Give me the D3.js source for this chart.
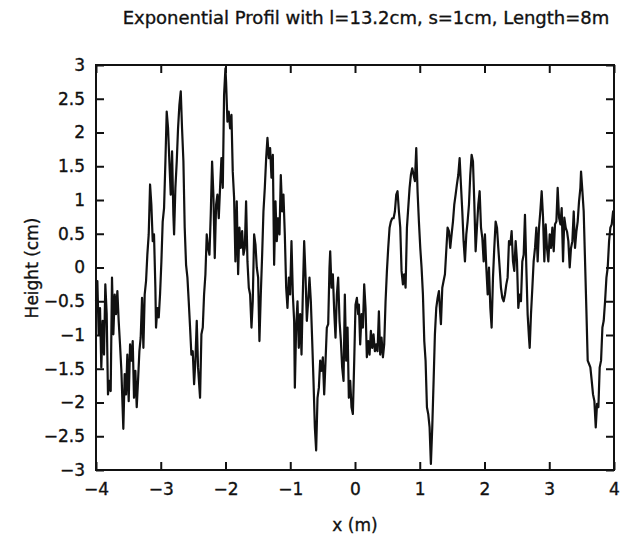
<!DOCTYPE html>
<html>
<head>
<meta charset="utf-8">
<script src="https://cdn.jsdelivr.net/npm/d3@7"></script>
<style>
  html, body { margin: 0; padding: 0; background: #fff; }
  svg { display: block; }
  text { font-family: "DejaVu Sans", "Liberation Sans", sans-serif; fill: #111; stroke: #111; stroke-width: 0.35px; }
</style>
</head>
<body>
<svg id="chart" width="621" height="544"></svg>
<script>
// Surface profile: position along the track (m) and height (cm)
const xPos = [
  -4.000,-3.979,-3.959,-3.938,-3.918,-3.897,-3.876,-3.856,-3.835,-3.815,-3.794,-3.773,-3.753,-3.732,-3.711,-3.691,-3.670,-3.650,-3.629,-3.608,
  -3.578,-3.557,-3.536,-3.516,-3.495,-3.474,-3.454,-3.433,-3.413,-3.392,-3.371,-3.351,-3.330,-3.310,-3.289,-3.268,-3.248,-3.227,-3.207,-3.186,
  -3.165,-3.145,-3.124,-3.104,-3.083,-3.073,-3.052,-3.031,-3.011,-2.990,-2.970,-2.949,-2.928,-2.908,-2.887,-2.867,-2.846,-2.825,-2.805,-2.794,
  -2.774,-2.753,-2.733,-2.712,-2.691,-2.671,-2.650,-2.630,-2.609,-2.588,-2.568,-2.547,-2.527,-2.506,-2.485,-2.465,-2.444,-2.424,-2.393,-2.372,
  -2.351,-2.331,-2.310,-2.290,-2.269,-2.248,-2.228,-2.207,-2.187,-2.166,-2.145,-2.125,-2.104,-2.084,-2.063,-2.042,-2.022,-2.001,-1.991,-1.970,
  -1.950,-1.929,-1.908,-1.888,-1.867,-1.847,-1.826,-1.805,-1.785,-1.764,-1.743,-1.723,-1.702,-1.682,-1.661,-1.640,-1.620,-1.599,-1.579,-1.558,
  -1.537,-1.517,-1.496,-1.476,-1.455,-1.434,-1.414,-1.393,-1.372,-1.352,-1.331,-1.311,-1.290,-1.269,-1.249,-1.228,-1.208,-1.187,-1.166,-1.146,
  -1.125,-1.105,-1.084,-1.063,-1.043,-1.022,-1.002,-0.981,-0.960,-0.940,-0.929,-0.909,-0.888,-0.868,-0.847,-0.826,-0.806,-0.785,-0.765,-0.744,
  -0.723,-0.703,-0.682,-0.661,-0.641,-0.620,-0.600,-0.579,-0.558,-0.538,-0.517,-0.497,-0.476,-0.455,-0.435,-0.414,-0.394,-0.383,-0.363,-0.342,
  -0.321,-0.301,-0.280,-0.260,-0.239,-0.218,-0.198,-0.177,-0.157,-0.136,-0.115,-0.095,-0.074,-0.054,-0.033,-0.012,0.008,0.029,0.049,0.060,
  0.080,0.101,0.122,0.142,0.163,0.183,0.204,0.225,0.245,0.266,0.286,0.307,0.328,0.348,0.369,0.389,0.410,0.431,0.451,0.472,
  0.493,0.513,0.534,0.554,0.575,0.596,0.616,0.637,0.657,0.678,0.699,0.719,0.740,0.760,0.781,0.802,0.822,0.843,0.863,0.884,
  0.905,0.925,0.946,0.966,0.987,1.008,1.028,1.049,1.070,1.090,1.111,1.131,1.152,1.172,1.193,1.214,1.234,1.255,1.276,1.296,
  1.317,1.327,1.348,1.368,1.389,1.409,1.430,1.451,1.471,1.492,1.513,1.533,1.554,1.574,1.595,1.616,1.636,1.657,1.677,1.698,
  1.719,1.739,1.760,1.780,1.801,1.822,1.842,1.863,1.883,1.904,1.925,1.946,1.966,1.987,2.007,2.028,2.049,2.069,2.090,2.110,
  2.131,2.151,2.172,2.193,2.213,2.234,2.254,2.275,2.296,2.316,2.337,2.357,2.378,2.399,2.419,2.440,2.460,2.481,2.502,2.522,
  2.543,2.563,2.584,2.605,2.625,2.646,2.666,2.687,2.698,2.718,2.739,2.759,2.780,2.801,2.821,2.842,2.862,2.883,2.904,2.924,
  2.945,2.965,2.986,3.007,3.027,3.048,3.069,3.089,3.110,3.130,3.151,3.172,3.192,3.213,3.233,3.254,3.275,3.295,3.316,3.336,
  3.357,3.378,3.398,3.419,3.439,3.460,3.481,3.491,3.512,3.532,3.553,3.574,3.594,3.615,3.635,3.656,3.676,3.697,3.718,3.738,
  3.759,3.779,3.800,3.821,3.841,3.862,3.883,3.903,3.924,3.944,3.965,3.986,4.000
];
const heights = [
  -0.50,-0.20,-0.99,-0.60,-1.48,-0.79,-1.29,-0.25,-0.69,-1.88,-1.68,-1.83,-0.15,-0.99,-0.40,-0.69,-0.35,-0.79,-1.14,-1.53,
  -2.39,-1.58,-1.88,-1.29,-1.98,-1.14,-1.38,-1.09,-1.93,-1.53,-2.07,-1.68,-1.24,-1.04,-0.45,-1.19,-0.40,-0.20,0.19,0.49,
  1.23,0.93,0.39,0.49,-0.30,-0.89,-0.60,-0.74,-0.40,0.09,0.68,0.88,1.57,2.31,2.06,1.57,1.08,1.72,0.78,0.49,
  1.18,1.57,2.06,2.41,2.61,2.06,1.57,0.59,0.04,-0.15,-0.50,-0.89,-1.29,-1.24,-1.73,-1.38,-0.79,-1.48,-1.93,-0.99,
  -0.89,-0.40,-0.10,0.49,0.29,0.19,0.78,1.57,1.08,0.14,0.93,1.08,0.73,1.18,1.62,1.18,2.56,2.95,2.75,2.16,
  2.31,2.06,2.26,1.42,1.03,0.09,0.98,-0.10,0.59,0.29,0.54,0.19,0.29,0.98,0.09,-0.30,-0.40,-0.89,-0.50,0.49,
  0.34,0.00,-0.15,-1.09,-0.40,0.19,0.83,1.18,1.62,1.92,1.62,1.77,1.33,1.67,0.04,0.98,0.39,0.73,0.49,1.37,
  0.83,1.08,0.49,-0.30,-0.60,-0.15,-0.40,0.39,-0.40,-0.79,-1.78,-0.89,-0.50,-1.19,-0.69,-1.29,-0.40,0.39,-0.10,-0.79,
  -0.50,-0.15,-0.50,-1.09,-1.68,-2.37,-2.71,-1.93,-1.78,-1.38,-1.53,-1.33,-1.88,-1.38,-0.89,-0.84,0.00,0.24,-0.30,-0.10,
  -0.65,-1.04,-0.40,-0.15,-0.79,-1.09,-1.48,-1.68,-0.40,-1.38,-0.89,-1.93,-1.68,-2.07,-2.17,-1.38,-0.55,-0.45,-0.69,-0.55,
  -1.14,-0.69,-0.89,-0.25,-0.60,-1.33,-1.09,-1.29,-0.94,-1.19,-0.99,-1.24,-1.14,-1.24,-0.65,-1.29,-1.04,-1.33,-1.14,-0.50,
  -0.05,0.29,0.59,0.68,0.73,0.73,0.83,1.08,1.13,0.83,0.59,-0.05,-0.25,-0.10,-0.30,0.59,0.88,1.18,1.37,1.47,
  1.37,1.28,1.77,1.13,0.68,0.29,0.00,-0.40,-1.09,-1.38,-2.07,-2.17,-2.37,-2.91,-2.37,-1.68,-0.99,-0.60,-0.45,-0.35,
  -0.69,-0.84,-0.30,-0.20,-0.10,0.24,0.59,0.54,0.29,0.49,0.68,0.93,1.08,1.23,1.37,1.62,1.23,0.83,0.39,0.09,
  0.49,0.68,0.93,1.37,1.67,1.57,0.98,0.24,0.59,0.93,1.13,0.59,0.44,0.09,0.49,0.00,-0.40,0.00,-0.60,-0.89,
  -0.15,0.29,0.68,0.59,0.29,0.00,-0.30,-0.45,-0.50,-0.40,-0.25,-0.15,0.39,0.34,0.54,0.09,-0.05,0.39,0.09,-0.60,
  -0.40,-0.50,0.09,0.19,0.78,0.00,-0.69,-1.04,-1.19,-0.69,-0.30,0.09,0.29,0.59,0.09,0.59,0.83,1.13,0.74,0.09,
  0.64,0.29,0.09,0.49,0.29,0.59,0.24,0.64,0.68,1.18,0.74,0.64,0.88,0.09,0.74,0.59,0.53,0.39,0.00,0.29,
  0.39,0.83,0.29,0.53,0.68,0.98,1.18,1.42,1.13,0.83,0.09,-0.65,-1.38,-1.43,-1.48,-1.68,-1.88,-1.98,-2.37,-2.02,
  -2.07,-1.48,-1.38,-0.89,-0.79,-0.50,-0.15,0.00,0.39,0.59,0.64,0.83,0.70
];

// Axis tick values and labels
const xTicks = [-4, -3, -2, -1, 0, 1, 2, 3, 4];
const yTicks = [-3, -2.5, -2, -1.5, -1, -0.5, 0, 0.5, 1, 1.5, 2, 2.5, 3];
const titleText = "Exponential Profil with l=13.2cm, s=1cm, Length=8m";
const xLabel = "x (m)";
const yLabel = "Height (cm)";

const svg = d3.select("#chart");
const plotLeft = 96, plotRight = 614, plotTop = 65, plotBottom = 470;

const x = d3.scaleLinear().domain([-4, 4]).range([plotLeft, plotRight]);
const y = d3.scaleLinear().domain([-3, 3]).range([plotBottom, plotTop]);

const fmt = v => (v < 0 ? "\u2212" : "") + String(Math.abs(v));
const tickLen = 8;

// Bottom axis with labels, ticks pointing into the plot
const gB = svg.append("g").attr("transform", `translate(0,${plotBottom})`)
  .call(d3.axisBottom(x).tickValues(xTicks).tickFormat(fmt).tickSizeInner(-tickLen).tickSizeOuter(0).tickPadding(13));
// Left axis with labels
const gL = svg.append("g").attr("transform", `translate(${plotLeft},0)`)
  .call(d3.axisLeft(y).tickValues(yTicks).tickFormat(fmt).tickSizeInner(-tickLen).tickSizeOuter(0).tickPadding(11));
// Top and right axes: ticks only
const gT = svg.append("g").attr("transform", `translate(0,${plotTop})`)
  .call(d3.axisTop(x).tickValues(xTicks).tickFormat("").tickSizeInner(-tickLen).tickSizeOuter(0));
const gR = svg.append("g").attr("transform", `translate(${plotRight},0)`)
  .call(d3.axisRight(y).tickValues(yTicks).tickFormat("").tickSizeInner(-tickLen).tickSizeOuter(0));

[gB, gL, gT, gR].forEach(g => {
  g.select(".domain").remove();
  g.selectAll(".tick line").attr("stroke", "#111").attr("stroke-width", 2);
  g.selectAll(".tick text").attr("font-size", 17).attr("fill", "#111")
    .attr("font-family", "DejaVu Sans, sans-serif");
});

// Profile line
const pts = xPos.map((d, i) => [d, heights[i]]);
const line = d3.line().x(d => x(d[0])).y(d => y(d[1]));
svg.append("path")
  .datum(pts)
  .attr("d", line)
  .attr("fill", "none")
  .attr("stroke", "#111")
  .attr("stroke-width", 2.2)
  .attr("stroke-linejoin", "round");

// Plot frame
svg.append("rect")
  .attr("x", plotLeft).attr("y", plotTop)
  .attr("width", plotRight - plotLeft).attr("height", plotBottom - plotTop)
  .attr("fill", "none").attr("stroke", "#111").attr("stroke-width", 2);

// Title and axis titles
svg.append("text")
  .attr("x", 366).attr("y", 24)
  .attr("text-anchor", "middle")
  .attr("font-size", 18)
  .text(titleText);

svg.append("text")
  .attr("x", 355).attr("y", 531)
  .attr("text-anchor", "middle")
  .attr("font-size", 17)
  .text(xLabel);

svg.append("text")
  .attr("transform", "translate(38,268) rotate(-90)")
  .attr("text-anchor", "middle")
  .attr("font-size", 17)
  .text(yLabel);
</script>
</body>
</html>
